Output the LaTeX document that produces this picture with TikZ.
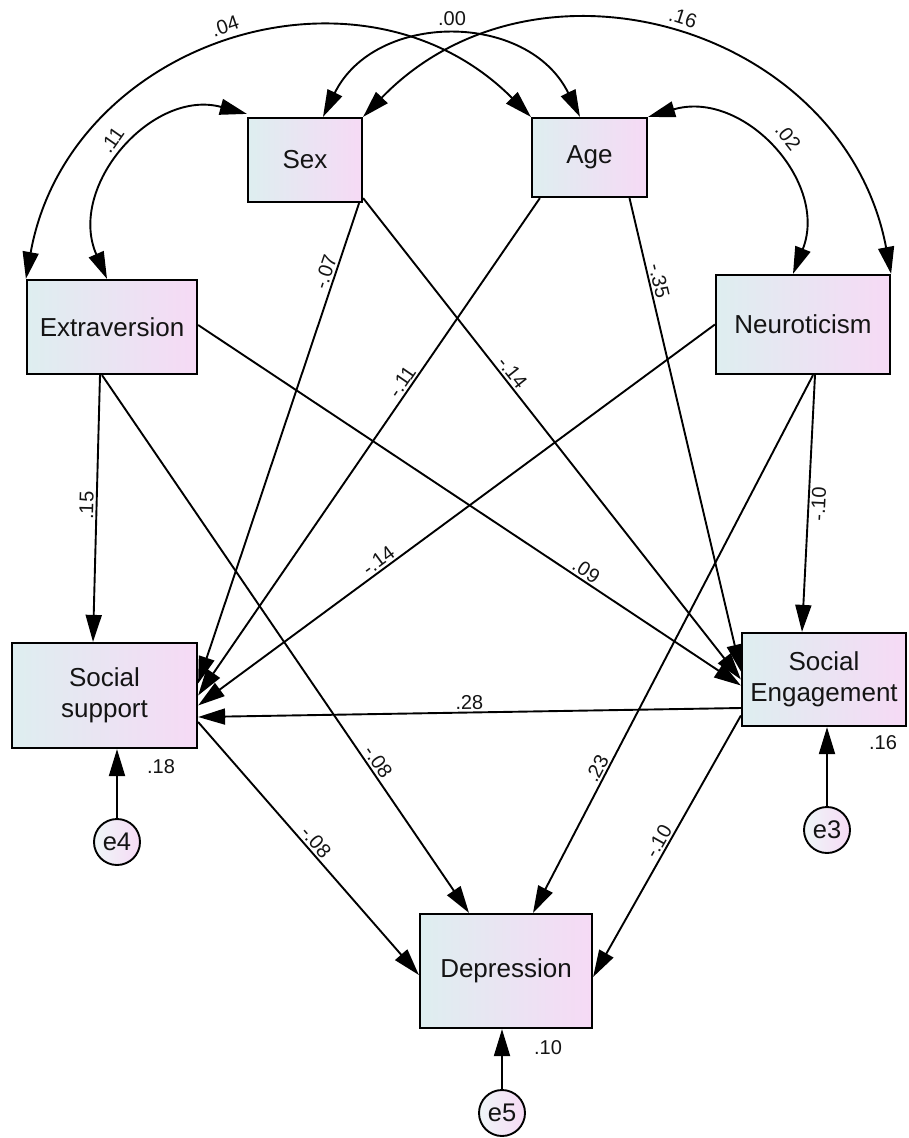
\documentclass[tikz,border=0pt]{standalone}
\usepackage{fontspec}
\setmainfont{Liberation Sans}
\usetikzlibrary{arrows.meta,calc}
\definecolor{boxL}{RGB}{222,238,240}
\definecolor{boxR}{RGB}{246,218,245}
\definecolor{txt}{RGB}{20,20,20}
\begin{document}
\begin{tikzpicture}[x=1pt,y=-1pt,
  var/.style={draw=black, line width=2.2pt, left color=boxL, right color=boxR, inner sep=0pt,
    font=\fontsize{26}{31}\selectfont, text=txt, align=center},
  err/.style={circle, draw=black, line width=1.9pt, left color=boxL!50!white, right color=boxR,
    minimum size=46pt, inner sep=0pt, font=\fontsize{25.5}{30}\selectfont, text=txt},
  pth/.style={line width=1.9pt, -{Triangle[length=27pt,width=16pt]}},
  cov/.style={line width=1.9pt, {Triangle[length=27pt,width=16pt]}-{Triangle[length=27pt,width=16pt]}},
  lab/.style={font=\fontsize{20}{22}\selectfont, text=txt, inner sep=2pt},
]
\useasboundingbox (0,0) rectangle (909,1138);
\fill[white] (0,0) rectangle (909,1138);

% variables
\node[var, minimum width=114pt, minimum height=84pt] (sex) at (305,160) {Sex};
\node[var, minimum width=115pt, minimum height=79pt] (age) at (589.5,157.5) {Age};
\node[var, minimum width=170pt, minimum height=94pt] (ext) at (112,327) {Extraversion};
\node[var, minimum width=174pt, minimum height=99pt] (neu) at (803,324.5) {Neuroticism};
\node[var, minimum width=185pt, minimum height=105pt] (ss) at (104.5,695.5) {Social\\support};
\node[var, minimum width=164pt, minimum height=93pt] (se) at (824,679.5) {Social\\Engagement};
\node[var, minimum width=172pt, minimum height=114pt] (dep) at (506,971) {Depression};
\node[err] (e4) at (117,842) {e4};
\node[err] (e3) at (827,830) {e3};
\node[err] (e5) at (502,1113) {e5};

% covariances
\draw[cov] ([xshift=-5pt]ext.north) .. controls (66.7,186.7) and (152,88.2) .. ([yshift=3pt]sex.north west);
\draw[cov] (ext.north west) .. controls (69.1,39.9) and (360.9,-53.7) .. (age.north west);
\draw[cov] ([xshift=18pt]sex.north) .. controls (375,11) and (528,11) .. ([xshift=-9.5pt]age.north);
\draw[cov] (sex.north east) .. controls (537.6,-63.4) and (844.4,27.5) .. (neu.north east);
\draw[cov] (age.north east) .. controls (743.5,88.8) and (829.2,182.3) .. ([xshift=-10pt]neu.north);
\node[lab, rotate=55] (c11) at (112,140) {.11};
\node[lab, rotate=19] (c04) at (225,26) {.04};
\node[lab] (c00) at (452,19) {.00};
\node[lab, rotate=-18] (c16) at (683,18) {.16};
\node[lab, rotate=-52] (c02) at (788,137) {.02};

% paths
\draw[pth] ([xshift=-12pt]ext.south) -- node[lab,sloped,above,pos=.49]{.15} ([xshift=-11.5pt]ss.north);
\draw[pth] ([xshift=-10pt]ext.south) -- node[lab,sloped,above,pos=.73]{-.08} ([xshift=-37pt]dep.north);
\draw[pth] ([yshift=2pt]ext.east) -- node[lab,sloped,above,pos=.705]{.09} ([yshift=-6pt]se.west);
\draw[pth] ([xshift=-4pt]sex.south east) -- node[lab,sloped,above,pos=.15]{-.07} ([yshift=12pt]ss.east);
\draw[pth] ([yshift=5pt]sex.south east) -- node[lab,sloped,above,pos=.375]{-.14} (se.west);
\draw[pth] ([xshift=9pt]age.south west) -- node[lab,sloped,above,pos=.38]{-.11} (ss.east);
\draw[pth] ([xshift=40pt]age.south) -- node[lab,sloped,above,pos=.18]{-.35} ([yshift=8pt]se.west);
\draw[pth] (neu.west) -- node[lab,sloped,above,pos=.64]{-.14} ([yshift=-10pt]ss.east);
\draw[pth] ([xshift=12pt]neu.south) -- node[lab,sloped,below,pos=.5]{-.10} ([xshift=-22pt]se.north);
\draw[pth] ([xshift=10pt]neu.south) -- node[lab,sloped,above,pos=.74]{.23} ([xshift=27pt]dep.north);
\draw[pth] ([yshift=-28.5pt]se.west) -- node[lab,sloped,above,pos=.5]{.28} ([yshift=-21.5pt]ss.east);
\draw[pth] ([yshift=-26.5pt]ss.east) -- node[lab,sloped,above,pos=.5]{-.08} ([yshift=-4pt]dep.west);
\draw[pth] ([yshift=-36pt]se.west) -- node[lab,sloped,above,pos=.5]{-.10} ([yshift=-6pt]dep.east);

% errors
\draw[pth] (e4) -- (e4 |- ss.south);
\draw[pth] (e3) -- (e3 |- se.south);
\draw[pth] (e5) -- (e5 |- dep.south);
\node[lab] (r4) at (161,767) {.18};
\node[lab] (r3) at (883,743) {.16};
\node[lab] (r5) at (548,1048) {.10};
\end{tikzpicture}
\end{document}
